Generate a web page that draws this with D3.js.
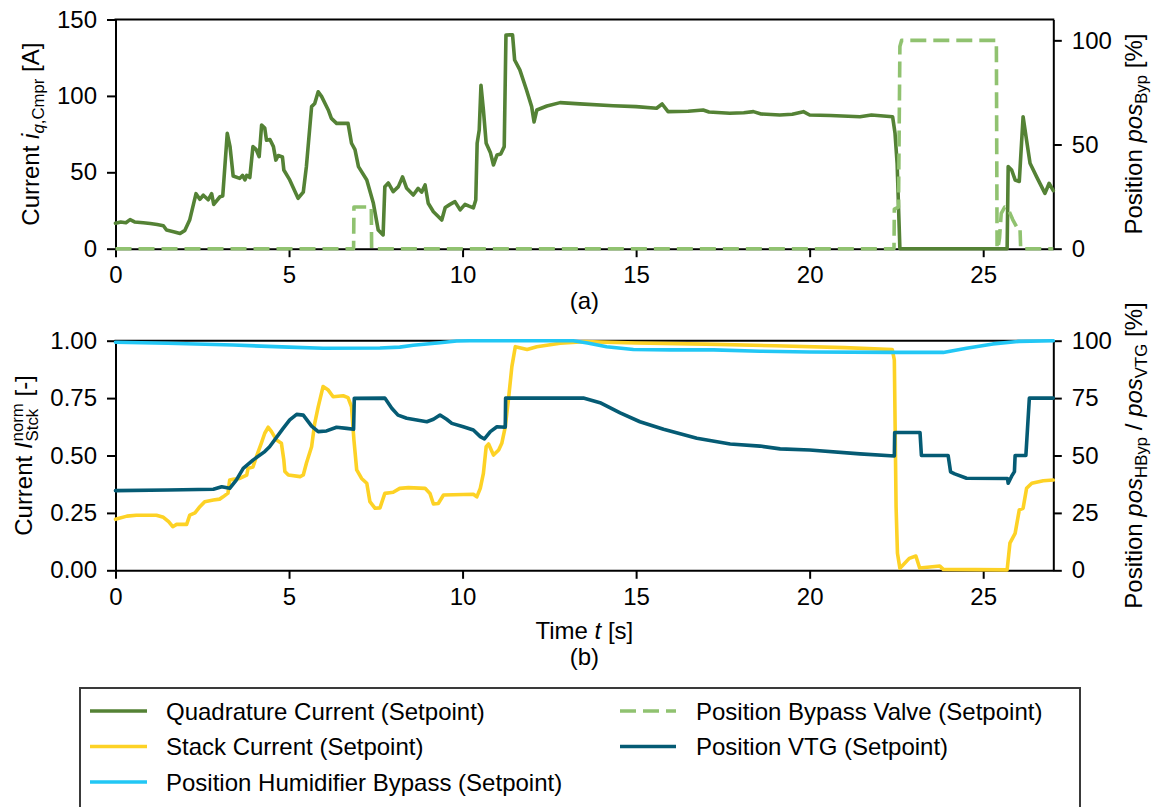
<!DOCTYPE html>
<html>
<head>
<meta charset="utf-8">
<script src="https://cdn.jsdelivr.net/npm/d3@7"></script>
<style>
  body { margin: 0; background: #fff; }
  svg text { font-family: "Liberation Sans", Arial, Helvetica, sans-serif; fill: #000; }
</style>
</head>
<body>
<svg id="chart" width="1154" height="807"></svg>
<script>
// ---- data: [time s, value] ----
const timeDomain = [0, 27.02];

// compressor quadrature current setpoint [A]
const quadCurrent = [
  [0,16.6],[0.15,17.5],[0.3,17],[0.42,19],[0.55,17.5],[0.8,17],[1.0,16.5],[1.2,15.8],[1.38,15],[1.47,12.2],
  [1.7,11],[1.86,10],[2.0,12],[2.14,19],[2.32,36],[2.43,32.3],[2.53,35],[2.67,32],[2.77,36],[2.83,29],
  [3.01,34],[3.09,34.5],[3.22,75.5],[3.30,66.8],[3.39,47.6],[3.58,46],[3.66,48],[3.73,45],[3.78,48],[3.87,46.6],
  [3.96,66.8],[4.05,65],[4.14,60.2],[4.21,81],[4.3,79],[4.35,71],[4.45,71.5],[4.55,66.8],[4.62,58],[4.69,61],
  [4.81,60],[4.85,51.5],[5.02,45],[5.26,33],[5.41,37],[5.5,53.7],[5.65,93],[5.74,95],[5.84,102.7],[5.94,99.5],
  [6.13,90.8],[6.22,85.3],[6.37,82],[6.7,82],[6.8,69],[6.9,64.8],[7.0,53.7],[7.24,45],[7.43,29.7],[7.57,12.2],
  [7.71,9],[7.76,40.6],[7.86,43],[8.0,37.3],[8.15,40.6],[8.27,47],[8.39,39.5],[8.58,35.1],[8.72,39.5],[8.82,37],
  [8.92,41.7],[9.01,29.7],[9.16,24.2],[9.40,18.8],[9.5,27],[9.64,29],[9.78,30.8],[9.93,25.4],[10.07,29],[10.17,28],
  [10.31,26.7],[10.38,31.9],[10.42,69],[10.48,77.7],[10.53,107],[10.6,90.8],[10.68,69],[10.8,63],[10.89,54.8],[10.99,61.3],
  [11.1,62],[11.2,66.8],[11.25,139.9],[11.44,140],[11.5,123.5],[11.65,117],[11.84,104],[11.99,93],[12.06,83],[12.14,90.8],
  [12.43,93.4],[12.81,95.6],[13.38,94.8],[14.34,93.6],[15.0,93],[15.59,91.9],[15.75,94.7],[15.92,89.7],[16.5,90],[16.93,90.8],
  [17.1,89.5],[17.7,88.6],[18.1,89],[18.38,89.7],[18.6,88.2],[19.14,87.5],[19.5,88],[19.82,89.7],[20.0,87.5],[20.6,87.2],
  [21.45,86.4],[21.78,87.5],[22.39,86.4],[22.46,75.5],[22.52,55.9],[22.6,0],[25.69,0],[25.72,53.7],[25.82,51.5],[25.92,45],
  [26.04,44],[26.15,86.4],[26.25,71],[26.35,55.9],[26.54,47],[26.78,36.2],[26.9,42.8],[27.02,38]
];

// bypass valve position setpoint [%]
const bypassValve = [
  [0,0],[6.86,0],[6.87,20],[7.37,20],[7.38,0],[22.43,0],[22.44,19],[22.56,20],[22.6,97],[22.65,100],
  [25.38,100],[25.4,0],[25.42,0],[25.47,5],[25.52,17],[25.62,20],[25.72,19],[25.85,14],[25.98,10],[26.06,10],
  [26.08,0],[27.02,0]
];

// normalized stack current setpoint [-]
const stackCurrent = [
  [0,0.222],[0.33,0.236],[0.6,0.24],[1.18,0.24],[1.38,0.231],[1.53,0.212],[1.65,0.19],[1.76,0.2],[2.05,0.2],[2.14,0.24],
  [2.29,0.25],[2.43,0.277],[2.57,0.299],[2.82,0.306],[3.0,0.31],[3.1,0.32],[3.24,0.336],[3.29,0.393],[3.39,0.396],[3.58,0.4],
  [3.78,0.415],[3.82,0.444],[3.96,0.45],[4.06,0.495],[4.2,0.553],[4.3,0.597],[4.4,0.623],[4.49,0.605],[4.64,0.567],[4.78,0.553],
  [4.85,0.48],[4.88,0.43],[4.98,0.415],[5.32,0.408],[5.41,0.415],[5.5,0.466],[5.65,0.538],[5.74,0.64],[5.84,0.712],[5.98,0.8],
  [6.13,0.785],[6.27,0.756],[6.56,0.76],[6.7,0.752],[6.8,0.712],[6.87,0.567],[6.95,0.437],[7.09,0.4],[7.24,0.379],[7.33,0.299],
  [7.48,0.27],[7.62,0.272],[7.76,0.335],[7.9,0.338],[8.0,0.34],[8.19,0.357],[8.44,0.36],[8.92,0.357],[9.06,0.335],[9.16,0.289],
  [9.3,0.291],[9.45,0.328],[10.31,0.331],[10.41,0.32],[10.51,0.357],[10.6,0.422],[10.68,0.538],[10.75,0.55],[10.89,0.502],[11.04,0.524],
  [11.13,0.553],[11.23,0.625],[11.33,0.756],[11.42,0.887],[11.52,0.974],[11.86,0.962],[12.14,0.974],[12.81,0.989],[13.5,0.996],[15,0.99],
  [17,0.985],[19,0.978],[21,0.97],[22.38,0.962],[22.44,0.916],[22.49,0.277],[22.53,0.074],[22.6,0.009],[22.69,0.023],[22.87,0.052],
  [23.06,0.062],[23.17,0.01],[23.75,0.019],[23.85,0.004],[25.69,0.002],[25.77,0.118],[25.92,0.161],[26.04,0.263],[26.15,0.27],[26.25,0.357],
  [26.4,0.379],[26.73,0.39],[27.02,0.393]
];

// humidifier bypass position setpoint [%]
const humidBypass = [
  [0,99.3],[1.5,98.9],[3.39,98.1],[5,97.2],[5.98,96.7],[7.62,96.8],[8.19,97.2],[8.58,98],[9.35,99.1],[9.83,99.9],
  [10.2,100],[13.19,100],[13.6,99],[14.15,97.4],[14.92,96.2],[16,96],[17.23,96],[18.57,95.4],[20,95.1],[22.41,94.9],
  [23.85,94.9],[24.52,96.7],[25.28,98.6],[26.03,99.7],[27.02,100]
];

// VTG position setpoint [%]
const vtgPosition = [
  [0,34.7],[1.5,35],[2.82,35.3],[3.06,36.4],[3.29,35.7],[3.48,39.3],[3.68,44.4],[3.96,48],[4.3,51.7],[4.44,53.8],
  [4.83,61.8],[5.02,65.5],[5.22,67.9],[5.41,67.6],[5.65,62.8],[5.84,60.4],[6.08,60.7],[6.37,62.3],[6.66,61.8],[6.86,61.4],
  [6.88,74.9],[7.76,75],[7.96,70.6],[8.14,67.6],[8.39,66.2],[8.68,65.5],[8.97,64.7],[9.16,65.8],[9.35,67.6],[9.54,65.8],
  [9.69,64],[10.02,62.5],[10.31,61.1],[10.51,58.2],[10.63,57.2],[10.8,60.4],[10.99,62.5],[11.23,62.3],[11.24,75],[13.48,75],
  [13.96,73],[14.54,68.6],[15.11,64.7],[15.79,61.4],[16.75,57.5],[17.71,55],[18.57,54.1],[19.15,52.9],[20,52.4],[21.45,50.7],
  [22.44,49.8],[22.45,60],[23.18,60],[23.22,50],[23.99,50],[24.06,42.9],[24.18,42],[24.52,40.1],[25.7,40],[25.72,37.9],
  [25.82,41],[25.9,43],[25.92,50],[26.23,50],[26.33,75],[27.02,75]
];

// ticks
const xTicks = [0, 5, 10, 15, 20, 25];
const topLeftTicks = [0, 50, 100, 150];
const topRightTicks = [0, 50, 100];
const botLeftTicks = [0, 0.25, 0.5, 0.75, 1.0];
const botRightTicks = [0, 25, 50, 75, 100];

const legendItems = [
  { label: "Quadrature Current (Setpoint)", color: "#548235", dash: null, col: 0, row: 0 },
  { label: "Stack Current (Setpoint)", color: "#FDD225", dash: null, col: 0, row: 1 },
  { label: "Position Humidifier Bypass (Setpoint)", color: "#22C7F5", dash: null, col: 0, row: 2 },
  { label: "Position Bypass Valve (Setpoint)", color: "#90C270", dash: "16,7", col: 1, row: 0 },
  { label: "Position VTG (Setpoint)", color: "#055B74", dash: null, col: 1, row: 1 }
];
const colorOf = Object.fromEntries(legendItems.map(d => [d.label, d.color]));

// ---- layout ----
const FS = 24;
const LW = 3.6;
const svg = d3.select("#chart");
const plotLeft = 115.5, plotRight = 1053.3;
const topPanel = { top: 19.5, bottom: 248.7 };
const botPanel = { top: 340.7, bottom: 570.3 };

const x = d3.scaleLinear().domain(timeDomain).range([plotLeft, plotRight]);
const yTopL = d3.scaleLinear().domain([0, 150]).range([topPanel.bottom, topPanel.top]);
const yTopR = d3.scaleLinear().domain([0, 110]).range([topPanel.bottom, topPanel.top]);
const yBotL = d3.scaleLinear().domain([0, 1]).range([botPanel.bottom, botPanel.top]);
const yBotR = d3.scaleLinear().domain([0, 100]).range([botPanel.bottom, botPanel.top]);

function styleAxis(g) {
  g.attr("font-size", FS).attr("font-family", '"Liberation Sans", Arial, sans-serif');
  g.selectAll("path.domain").attr("stroke", "#000").attr("stroke-width", 2);
  g.selectAll(".tick line").attr("stroke", "#000").attr("stroke-width", 2);
  g.selectAll(".tick text").attr("fill", "#000");
}

function drawFrame(panel, yL, yR, lTicks, rTicks, lFmt) {
  const gx = svg.append("g").attr("transform", `translate(0,${panel.bottom})`)
    .call(d3.axisBottom(x).tickValues(xTicks).tickSize(8.5).tickSizeOuter(0).tickPadding(9).tickFormat(d3.format("d")));
  styleAxis(gx);
  const gl = svg.append("g").attr("transform", `translate(${plotLeft},0)`)
    .call(d3.axisLeft(yL).tickValues(lTicks).tickSize(8.5).tickSizeOuter(0).tickPadding(10).tickFormat(lFmt));
  styleAxis(gl);
  const gr = svg.append("g").attr("transform", `translate(${plotRight},0)`)
    .call(d3.axisRight(yR).tickValues(rTicks).tickSize(8.5).tickSizeOuter(0).tickPadding(10).tickFormat(d3.format("d")));
  styleAxis(gr);
  svg.append("line").attr("x1", plotLeft - 1).attr("x2", plotRight + 1)
    .attr("y1", panel.top).attr("y2", panel.top).attr("stroke", "#000").attr("stroke-width", 2);
}

function drawSeries(data, yScale, color, dash) {
  const line = d3.line().x(d => x(d[0])).y(d => yScale(d[1]));
  svg.append("path").datum(data).attr("d", line)
    .attr("fill", "none").attr("stroke", color).attr("stroke-width", LW)
    .attr("stroke-linejoin", "round").attr("stroke-linecap", dash ? "butt" : "round")
    .attr("stroke-dasharray", dash);
}

// rotated axis title built from pieces: {t, it (italic), size, dy}
function rotatedTitle(bx, cy, pieces) {
  const t = svg.append("text").attr("font-size", FS).attr("text-anchor", "middle")
    .attr("transform", `translate(${bx},${cy}) rotate(-90)`);
  pieces.forEach(p => {
    const sp = t.append("tspan").text(p.t);
    if (p.it) sp.attr("font-style", "italic");
    if (p.size) sp.attr("font-size", p.size);
    if (p.dy != null) sp.attr("dy", p.dy);
  });
  return t;
}

// ---- top panel ----
drawFrame(topPanel, yTopL, yTopR, topLeftTicks, topRightTicks, d3.format("d"));
drawSeries(quadCurrent, yTopL, colorOf["Quadrature Current (Setpoint)"], null);
drawSeries(bypassValve, yTopR, colorOf["Position Bypass Valve (Setpoint)"], "16,7");

const SUB = FS * 0.7;
rotatedTitle(39.3, (topPanel.top + topPanel.bottom) / 2, [
  { t: "Current " }, { t: "i", it: true },
  { t: "q", it: true, size: SUB, dy: 5 }, { t: ",Cmpr", size: SUB },
  { t: " [A]", dy: -5 }
]);
rotatedTitle(1141.7, (topPanel.top + topPanel.bottom) / 2, [
  { t: "Position " }, { t: "pos", it: true },
  { t: "Byp", size: SUB, dy: 5 }, { t: " [%]", dy: -5 }
]);
svg.append("text").attr("x", (plotLeft + plotRight) / 2).attr("y", 309)
  .attr("font-size", FS).attr("text-anchor", "middle").text("(a)");

// ---- bottom panel ----
drawFrame(botPanel, yBotL, yBotR, botLeftTicks, botRightTicks, d3.format(".2f"));
drawSeries(stackCurrent, yBotL, colorOf["Stack Current (Setpoint)"], null);
drawSeries(humidBypass, yBotR, colorOf["Position Humidifier Bypass (Setpoint)"], null);
drawSeries(vtgPosition, yBotR, colorOf["Position VTG (Setpoint)"], null);

// left title with stacked super/subscript
{
  const t = svg.append("text").attr("font-size", FS).attr("text-anchor", "middle")
    .attr("transform", `translate(31.7,${(botPanel.top + botPanel.bottom) / 2}) rotate(-90)`);
  t.append("tspan").text("Current ");
  t.append("tspan").attr("font-style", "italic").text("I");
  const sup = t.append("tspan").attr("font-size", SUB).attr("dy", -9).attr("dx", 1).text("norm");
  const w = sup.node().getComputedTextLength();
  const sub = t.append("tspan").attr("font-size", SUB).attr("dy", 15).attr("dx", -w).text("Stck");
  const ws = sub.node().getComputedTextLength();
  t.append("tspan").attr("dy", -6).attr("dx", Math.max(0, w - ws)).text(" [-]");
}
rotatedTitle(1141.7, (botPanel.top + botPanel.bottom) / 2, [
  { t: "Position " }, { t: "pos", it: true },
  { t: "HByp", size: SUB, dy: 5 }, { t: " / ", dy: -5 },
  { t: "pos", it: true }, { t: "VTG", size: SUB, dy: 5 }, { t: " [%]", dy: -5 }
]);
{
  const t = svg.append("text").attr("x", (plotLeft + plotRight) / 2).attr("y", 639)
    .attr("font-size", FS).attr("text-anchor", "middle");
  t.append("tspan").text("Time ");
  t.append("tspan").attr("font-style", "italic").text("t");
  t.append("tspan").text(" [s]");
}
svg.append("text").attr("x", (plotLeft + plotRight) / 2).attr("y", 665)
  .attr("font-size", FS).attr("text-anchor", "middle").text("(b)");

// ---- legend ----
const legend = svg.append("g");
legend.append("rect").attr("x", 80).attr("y", 688).attr("width", 1000).attr("height", 130)
  .attr("fill", "#fff").attr("stroke", "#3a3a3a").attr("stroke-width", 2);
const colX = [{ h0: 90, h1: 147, tx: 166 }, { h0: 620, h1: 676, tx: 696 }];
const rowY = [711, 746.5, 782];
legendItems.forEach(d => {
  const c = colX[d.col], yy = rowY[d.row];
  legend.append("line").attr("x1", c.h0).attr("x2", c.h1).attr("y1", yy).attr("y2", yy)
    .attr("stroke", d.color).attr("stroke-width", LW).attr("stroke-dasharray", d.dash);
  legend.append("text").attr("x", c.tx).attr("y", yy + 8.6).attr("font-size", FS).text(d.label);
});
</script>
</body>
</html>
